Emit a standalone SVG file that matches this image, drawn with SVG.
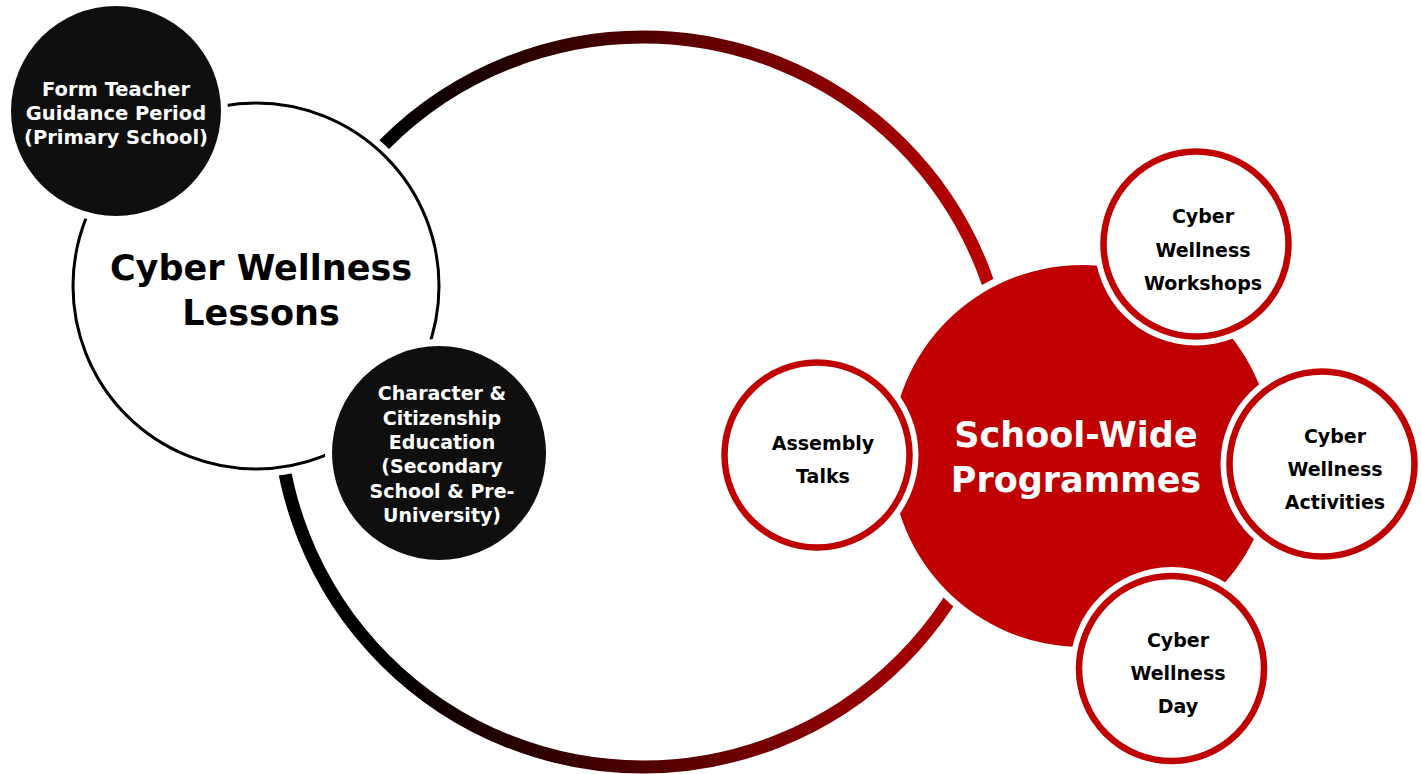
<svg xmlns="http://www.w3.org/2000/svg" width="1421" height="774" viewBox="0 0 1421 774">
  <defs>
    <linearGradient id="ringGrad" gradientUnits="userSpaceOnUse" x1="278" y1="0" x2="1008" y2="0">
      <stop offset="0" stop-color="#000000"/>
      <stop offset="0.15" stop-color="#000000"/>
      <stop offset="1" stop-color="#C00000"/>
    </linearGradient>
  </defs>
  <style>
    text { font-family: "DejaVu Sans", "Liberation Sans", sans-serif; font-weight: bold; text-anchor: middle; }
    .halo { fill: #ffffff; }
    .title { font-size: 35px; }
    .dark { fill: #0f0f0f; }
    .dark-t { font-size: 19.5px; fill: #ffffff; }
    .lessons { fill: #ffffff; stroke: #000000; stroke-width: 3; }
    .hub { fill: #C00000; }
    .hub-t { fill: #ffffff; }
    .spoke { fill: #ffffff; stroke: #C00000; stroke-width: 6.5; }
    .spoke-t { font-size: 19px; fill: #000000; }
  </style>
  <rect width="1421" height="774" fill="#ffffff"/>

  <g id="outer-ring">
    <circle cx="643" cy="402" r="365" fill="none" stroke="url(#ringGrad)" stroke-width="13"/>
  </g>

  <g id="connectors"></g>

  <g id="node-lessons">
    <circle class="halo" cx="256" cy="286" r="191"/>
    <circle class="lessons" cx="256" cy="286" r="183"/>
    <text class="title" x="261" y="280">Cyber Wellness</text>
    <text class="title" x="261" y="325">Lessons</text>
  </g>

  <g id="node-form-teacher">
    <circle class="halo" cx="116" cy="111" r="112"/>
    <circle class="dark" cx="116" cy="111" r="105"/>
    <text class="dark-t" x="116" y="96">Form Teacher</text>
    <text class="dark-t" x="116" y="120">Guidance Period</text>
    <text class="dark-t" x="116" y="144">(Primary School)</text>
  </g>

  <g id="node-cce">
    <circle class="halo" cx="439" cy="453" r="114"/>
    <circle class="dark" cx="439" cy="453" r="107"/>
    <text class="dark-t" style="font-size:19px" x="442" y="400">Character &amp;</text>
    <text class="dark-t" style="font-size:19px" x="442" y="425">Citizenship</text>
    <text class="dark-t" style="font-size:19px" x="442" y="449">Education</text>
    <text class="dark-t" style="font-size:19px" x="442" y="473">(Secondary</text>
    <text class="dark-t" style="font-size:19px" x="442" y="498">School &amp; Pre-</text>
    <text class="dark-t" style="font-size:19px" x="442" y="522">University)</text>
  </g>

  <g id="node-school-wide">
    <circle class="halo" cx="1082" cy="456" r="198"/>
    <circle class="hub" cx="1082" cy="456" r="191"/>
    <text class="title hub-t" x="1076" y="447">School-Wide</text>
    <text class="title hub-t" x="1076" y="492">Programmes</text>
  </g>

  <g id="node-assembly">
    <circle class="halo" cx="817" cy="455" r="101.5"/>
    <circle class="spoke" cx="817" cy="455" r="92.5"/>
    <text class="spoke-t" x="823" y="450">Assembly</text>
    <text class="spoke-t" x="823" y="482.5">Talks</text>
  </g>

  <g id="node-workshops">
    <circle class="halo" cx="1196" cy="244" r="101.5"/>
    <circle class="spoke" cx="1196" cy="244" r="92.5"/>
    <text class="spoke-t" x="1203" y="223">Cyber</text>
    <text class="spoke-t" x="1203" y="256.5">Wellness</text>
    <text class="spoke-t" x="1203" y="290">Workshops</text>
  </g>

  <g id="node-activities">
    <circle class="halo" cx="1322" cy="464" r="101.5"/>
    <circle class="spoke" cx="1322" cy="464" r="92.5"/>
    <text class="spoke-t" x="1335" y="442.5">Cyber</text>
    <text class="spoke-t" x="1335" y="475.5">Wellness</text>
    <text class="spoke-t" x="1335" y="508.5">Activities</text>
  </g>

  <g id="node-day">
    <circle class="halo" cx="1171.5" cy="668.5" r="101.5"/>
    <circle class="spoke" cx="1171.5" cy="668.5" r="92.5"/>
    <text class="spoke-t" x="1178" y="646.5">Cyber</text>
    <text class="spoke-t" x="1178" y="680">Wellness</text>
    <text class="spoke-t" x="1178" y="713">Day</text>
  </g>
</svg>
